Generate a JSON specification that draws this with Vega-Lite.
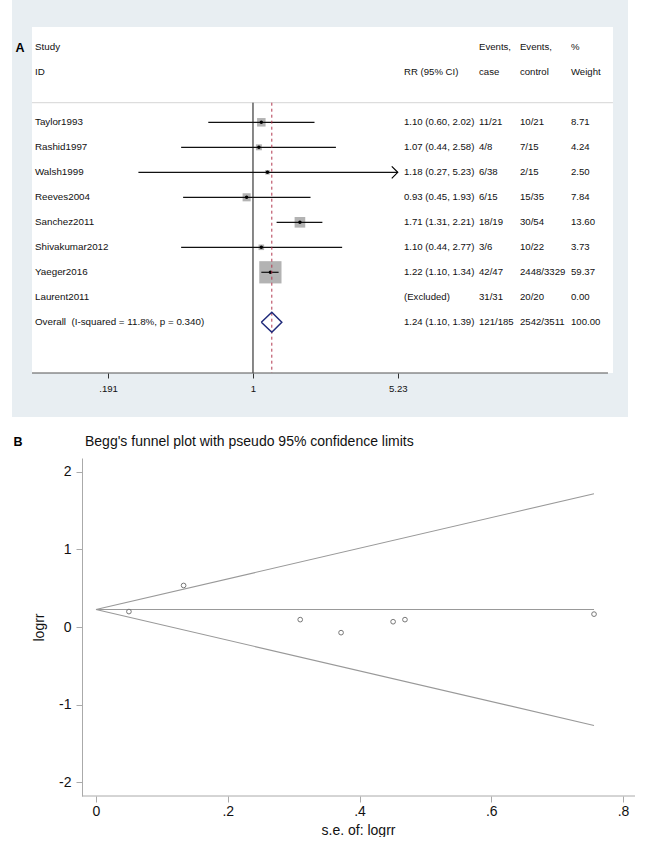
{
  "$schema": "https://vega.github.io/schema/vega-lite/v6.json",
  "padding": {"left": 12, "top": 0, "right": 4, "bottom": 0},
  "autosize": {"type": "pad"},
  "background": "white",
  "bounds": "flush",
  "spacing": 41,
  "config": {
    "view": {"stroke": null},
    "font": "Liberation Sans",
    "text": {"font": "Liberation Sans"},
    "axis": {"labelFont": "Liberation Sans", "titleFont": "Liberation Sans", "grid": false}
  },
  "datasets": {
    "studies": [
      {"row": -2, "id": "Study", "caseTxt": "Events,", "ctrlTxt": "Events,", "wTxt": "%"},
      {"row": -1, "id": "ID", "rrText": "RR (95% CI)", "caseTxt": "case", "ctrlTxt": "control", "wTxt": "Weight"},
      {"row": 1, "id": "Taylor1993", "rr": 1.10, "lo": 0.60, "hi": 2.02, "arrow": false, "w": 8.71, "rrText": "1.10 (0.60, 2.02)", "caseTxt": "11/21", "ctrlTxt": "10/21", "wTxt": "8.71"},
      {"row": 2, "id": "Rashid1997", "rr": 1.07, "lo": 0.44, "hi": 2.58, "arrow": false, "w": 4.24, "rrText": "1.07 (0.44, 2.58)", "caseTxt": "4/8", "ctrlTxt": "7/15", "wTxt": "4.24"},
      {"row": 3, "id": "Walsh1999", "rr": 1.18, "lo": 0.27, "hi": 5.23, "arrow": true, "w": 2.50, "rrText": "1.18 (0.27, 5.23)", "caseTxt": "6/38", "ctrlTxt": "2/15", "wTxt": "2.50"},
      {"row": 4, "id": "Reeves2004", "rr": 0.93, "lo": 0.45, "hi": 1.93, "arrow": false, "w": 7.84, "rrText": "0.93 (0.45, 1.93)", "caseTxt": "6/15", "ctrlTxt": "15/35", "wTxt": "7.84"},
      {"row": 5, "id": "Sanchez2011", "rr": 1.71, "lo": 1.31, "hi": 2.21, "arrow": false, "w": 13.60, "rrText": "1.71 (1.31, 2.21)", "caseTxt": "18/19", "ctrlTxt": "30/54", "wTxt": "13.60"},
      {"row": 6, "id": "Shivakumar2012", "rr": 1.10, "lo": 0.44, "hi": 2.77, "arrow": false, "w": 3.73, "rrText": "1.10 (0.44, 2.77)", "caseTxt": "3/6", "ctrlTxt": "10/22", "wTxt": "3.73"},
      {"row": 7, "id": "Yaeger2016", "rr": 1.22, "lo": 1.10, "hi": 1.34, "arrow": false, "w": 59.37, "rrText": "1.22 (1.10, 1.34)", "caseTxt": "42/47", "ctrlTxt": "2448/3329", "wTxt": "59.37"},
      {"row": 8, "id": "Laurent2011", "rrText": "(Excluded)", "caseTxt": "31/31", "ctrlTxt": "20/20", "w": 0, "wTxt": "0.00"},
      {"row": 9, "id": "Overall\u00a0\u00a0(I-squared = 11.8%, p = 0.340)", "rrText": "1.24 (1.10, 1.39)", "caseTxt": "121/185", "ctrlTxt": "2542/3511", "wTxt": "100.00"}
    ],
    "diamond": [
      {"x": 1.10, "r": 9, "o": 0},
      {"x": 1.24, "r": 8.6, "o": 1},
      {"x": 1.39, "r": 9, "o": 2},
      {"x": 1.24, "r": 9.4, "o": 3},
      {"x": 1.10, "r": 9, "o": 4}
    ],
    "funnelLines": [
      {"series": "upper", "se": 0, "logrr": 0.225},
      {"series": "upper", "se": 0.756, "logrr": 1.72},
      {"series": "center", "se": 0, "logrr": 0.225},
      {"series": "center", "se": 0.756, "logrr": 0.225},
      {"series": "lower", "se": 0, "logrr": 0.225},
      {"series": "lower", "se": 0.756, "logrr": -1.27}
    ],
    "funnelPts": [
      {"study": "Taylor1993", "se": 0.310, "logrr": 0.095},
      {"study": "Rashid1997", "se": 0.451, "logrr": 0.068},
      {"study": "Walsh1999", "se": 0.756, "logrr": 0.166},
      {"study": "Reeves2004", "se": 0.372, "logrr": -0.073},
      {"study": "Sanchez2011", "se": 0.133, "logrr": 0.536},
      {"study": "Shivakumar2012", "se": 0.469, "logrr": 0.095},
      {"study": "Yaeger2016", "se": 0.050, "logrr": 0.199}
    ]
  },
  "vconcat": [
    {
      "width": 616,
      "height": 417,
      "view": {"fill": "#e8eef2", "stroke": null},
      "layer": [
        {
          "data": {"values": [{}]},
          "mark": {"type": "rect", "fill": "white"},
          "encoding": {
            "x": {"datum": 0.08, "type": "quantitative", "scale": {"type": "log", "domain": [0.06367, 72.66], "nice": false},
              "axis": {"values": [0.191, 1, 5.23], "domain": false, "grid": false, "tickSize": 5, "tickColor": "#333", "tickWidth": 1,
                "labelFontSize": 9.6, "labelColor": "#111", "labelPadding": 5, "labelOverlap": false, "labelFlush": false,
                "labelExpr": "datum.value < 1 ? slice(format(datum.value, '.3f'), 1) : format(datum.value, '.3~g')",
                "title": null, "offset": -44, "zindex": 2}},
            "x2": {"datum": 61.2},
            "y": {"datum": -2.812, "type": "quantitative", "scale": {"domain": [-3.892, 12.788], "reverse": true, "nice": false, "zero": false}, "axis": null},
            "y2": {"datum": 11.028}
          }
        },
        {
          "data": {"values": [{}]},
          "mark": {"type": "rule", "color": "#d6d6d6", "strokeWidth": 1},
          "encoding": {
            "x": {"datum": 0.08, "type": "quantitative"},
            "x2": {"datum": 61.2},
            "y": {"datum": 0.216, "type": "quantitative", "axis": null}
          }
        },
        {
          "data": {"values": [{}]},
          "mark": {"type": "rule", "color": "#111", "strokeWidth": 1},
          "encoding": {
            "x": {"datum": 1, "type": "quantitative"},
            "y": {"datum": 0.216, "type": "quantitative", "axis": null},
            "y2": {"datum": 11.028}
          }
        },
        {
          "data": {"values": [{}]},
          "mark": {"type": "rule", "color": "#555", "strokeWidth": 1.2},
          "encoding": {
            "x": {"datum": 0.08, "type": "quantitative"},
            "x2": {"datum": 57.8},
            "y": {"datum": 11.028, "type": "quantitative", "axis": null}
          }
        },
        {
          "data": {"name": "studies"},
          "transform": [{"filter": "isValid(datum.rr) && datum.w > 0"}],
          "mark": {"type": "point", "shape": "square", "filled": true, "color": "#b3b3b3", "opacity": 1, "strokeWidth": 0},
          "encoding": {
            "x": {"field": "rr", "type": "quantitative"},
            "y": {"field": "row", "type": "quantitative", "axis": null},
            "size": {"field": "w", "type": "quantitative", "scale": {"domain": [0, 60], "range": [0, 500]}, "legend": null}
          }
        },
        {
          "data": {"name": "studies"},
          "transform": [{"filter": "isValid(datum.lo)"}],
          "mark": {"type": "rule", "color": "#111", "strokeWidth": 1.2},
          "encoding": {
            "x": {"field": "lo", "type": "quantitative"},
            "x2": {"field": "hi"},
            "y": {"field": "row", "type": "quantitative", "axis": null}
          }
        },
        {
          "data": {"name": "studies"},
          "transform": [{"filter": "isValid(datum.rr)"}],
          "mark": {"type": "point", "shape": "circle", "filled": true, "color": "#000", "size": 12, "opacity": 1},
          "encoding": {
            "x": {"field": "rr", "type": "quantitative"},
            "y": {"field": "row", "type": "quantitative", "axis": null}
          }
        },
        {
          "data": {"name": "studies"},
          "transform": [{"filter": "datum.arrow === true"}],
          "mark": {"type": "point", "shape": "M-1,-1L0,0L-1,1", "filled": false, "stroke": "#000", "strokeWidth": 1.2, "size": 144, "opacity": 1},
          "encoding": {
            "x": {"field": "hi", "type": "quantitative"},
            "y": {"field": "row", "type": "quantitative", "axis": null}
          }
        },
        {
          "data": {"values": [{}]},
          "mark": {"type": "rule", "color": "#b2384f", "strokeWidth": 1, "strokeDash": [3, 3]},
          "encoding": {
            "x": {"datum": 1.24, "type": "quantitative"},
            "y": {"datum": 0.216, "type": "quantitative", "axis": null},
            "y2": {"datum": 11.028}
          }
        },
        {
          "data": {"name": "diamond"},
          "mark": {"type": "line", "color": "#1f2a7a", "strokeWidth": 1.5},
          "encoding": {
            "x": {"field": "x", "type": "quantitative"},
            "y": {"field": "r", "type": "quantitative", "axis": null},
            "order": {"field": "o", "type": "quantitative"}
          }
        },
        {
          "data": {"name": "studies"},
          "transform": [{"filter": "isValid(datum.id)"}],
          "mark": {"type": "text", "align": "left", "baseline": "middle", "fontSize": 9.8, "color": "#111"},
          "encoding": {
            "x": {"datum": 0.0828, "type": "quantitative"},
            "y": {"field": "row", "type": "quantitative", "axis": null},
            "text": {"field": "id"}
          }
        },
        {
          "data": {"name": "studies"},
          "transform": [{"filter": "isValid(datum.rrText)"}],
          "mark": {"type": "text", "align": "left", "baseline": "middle", "fontSize": 9.6, "color": "#111"},
          "encoding": {
            "x": {"datum": 5.617, "type": "quantitative"},
            "y": {"field": "row", "type": "quantitative", "axis": null},
            "text": {"field": "rrText"}
          }
        },
        {
          "data": {"name": "studies"},
          "transform": [{"filter": "isValid(datum.caseTxt)"}],
          "mark": {"type": "text", "align": "left", "baseline": "middle", "fontSize": 9.6, "color": "#111"},
          "encoding": {
            "x": {"datum": 13.24, "type": "quantitative"},
            "y": {"field": "row", "type": "quantitative", "axis": null},
            "text": {"field": "caseTxt"}
          }
        },
        {
          "data": {"name": "studies"},
          "transform": [{"filter": "isValid(datum.ctrlTxt)"}],
          "mark": {"type": "text", "align": "left", "baseline": "middle", "fontSize": 9.6, "color": "#111"},
          "encoding": {
            "x": {"datum": 21.14, "type": "quantitative"},
            "y": {"field": "row", "type": "quantitative", "axis": null},
            "text": {"field": "ctrlTxt"}
          }
        },
        {
          "data": {"name": "studies"},
          "transform": [{"filter": "isValid(datum.wTxt)"}],
          "mark": {"type": "text", "align": "left", "baseline": "middle", "fontSize": 9.6, "color": "#111"},
          "encoding": {
            "x": {"datum": 37.86, "type": "quantitative"},
            "y": {"field": "row", "type": "quantitative", "axis": null},
            "text": {"field": "wTxt"}
          }
        },
        {
          "data": {"values": [{}]},
          "mark": {"type": "text", "text": "A", "align": "center", "baseline": "middle", "fontSize": 12.5, "fontWeight": "bold", "color": "#000"},
          "encoding": {
            "x": {"datum": 0.0697, "type": "quantitative"},
            "y": {"datum": -1.972, "type": "quantitative", "axis": null}
          }
        }
      ]
    },
    {
      "width": 623,
      "height": 338,
      "view": {"stroke": null},
      "layer": [
        {
          "data": {"name": "funnelLines"},
          "mark": {"type": "line", "color": "#999", "strokeWidth": 1.1},
          "encoding": {
            "x": {"field": "se", "type": "quantitative", "scale": {"domain": [-0.1275, 0.8182], "nice": false, "zero": false},
              "axis": {"values": [0, 0.2, 0.4, 0.6, 0.8], "domain": false, "grid": false, "tickSize": 6, "tickColor": "#aaa",
                "labelFontSize": 14, "labelColor": "#111", "labelPadding": 2, "labelFlush": false, "labelOverlap": false,
                "labelExpr": "datum.value == 0 ? '0' : slice(format(datum.value, '.1f'), 1)",
                "title": "s.e. of: logrr", "titleFontSize": 14, "titleFontWeight": "normal", "titleColor": "#111",
                "titleX": 346, "titleY": 34, "titleAlign": "center", "titleBaseline": "middle"}},
            "y": {"field": "logrr", "type": "quantitative", "scale": {"domain": [-2.1806, 2.1806], "nice": false, "zero": false},
              "axis": {"values": [-2, -1, 0, 1, 2], "domainColor": "#aaa", "tickColor": "#aaa", "tickSize": 6, "grid": false,
                "labelFontSize": 14, "labelColor": "#111", "labelPadding": 5, "labelFlush": false, "labelOverlap": false,
                "labelExpr": "datum.value < 0 ? '-' + abs(datum.value) : '' + datum.value",
                "title": "logrr", "titleFontSize": 14, "titleFontWeight": "normal", "titleColor": "#111", "titlePadding": 12,
                "offset": -70}},
            "detail": {"field": "series"},
            "order": {"field": "se", "type": "quantitative"}
          }
        },
        {
          "data": {"name": "funnelPts"},
          "mark": {"type": "point", "shape": "circle", "filled": false, "stroke": "#777", "strokeWidth": 1, "size": 22, "opacity": 1},
          "encoding": {
            "x": {"field": "se", "type": "quantitative"},
            "y": {"field": "logrr", "type": "quantitative"}
          }
        },
        {
          "data": {"values": [{}]},
          "mark": {"type": "rule", "color": "#aaa", "strokeWidth": 1},
          "encoding": {
            "x": {"datum": -0.02125, "type": "quantitative"},
            "x2": {"datum": 0.8182},
            "y": {"datum": -2.1806, "type": "quantitative"}
          }
        },
        {
          "data": {"values": [{}]},
          "mark": {"type": "text", "text": "B", "align": "center", "baseline": "middle", "fontSize": 12.5, "fontWeight": "bold", "color": "#000"},
          "encoding": {
            "x": {"datum": -0.1184, "type": "quantitative"},
            "y": {"datum": 2.387, "type": "quantitative"}
          }
        },
        {
          "data": {"values": [{}]},
          "mark": {"type": "text", "text": "Begg's funnel plot with pseudo 95% confidence limits", "align": "left", "baseline": "middle", "fontSize": 14, "color": "#111"},
          "encoding": {
            "x": {"datum": -0.0167, "type": "quantitative"},
            "y": {"datum": 2.387, "type": "quantitative"}
          }
        }
      ]
    }
  ]
}
